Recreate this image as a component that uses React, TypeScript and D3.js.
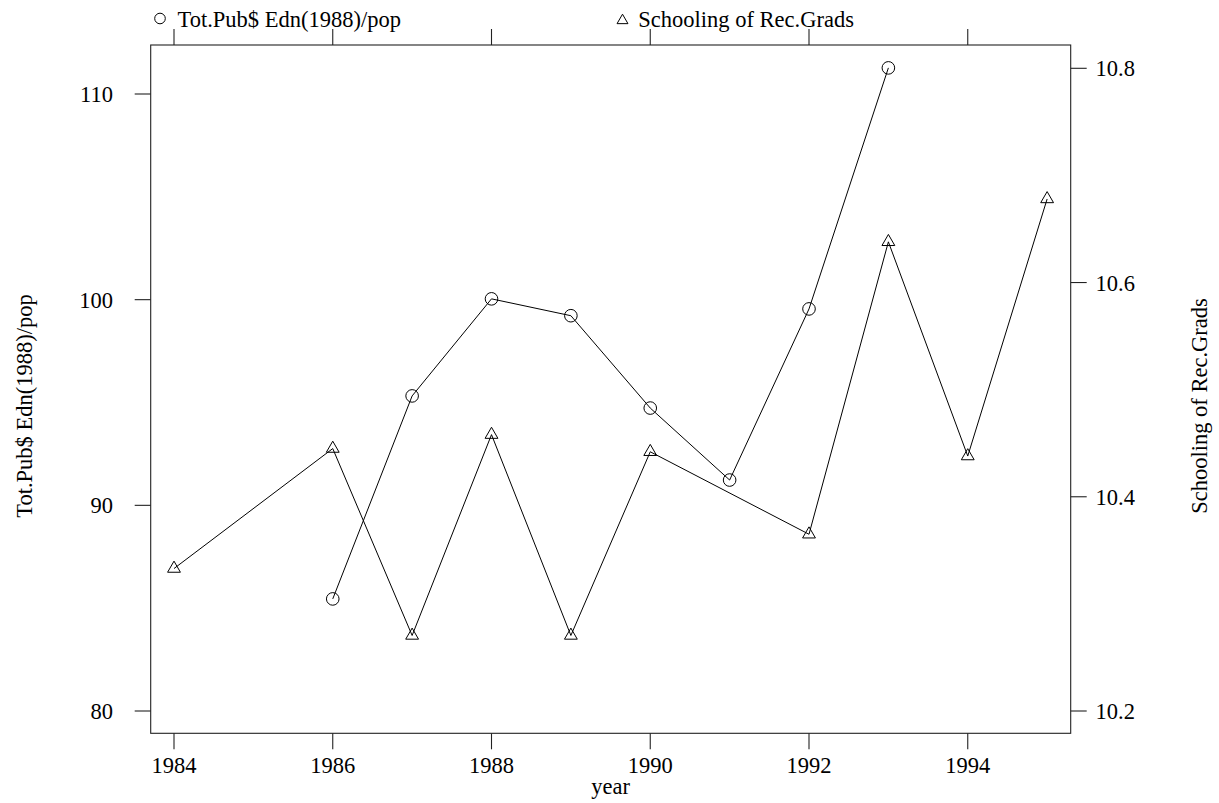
import React from "react";
import * as d3 from "d3";

const years = [1984, 1985, 1986, 1987, 1988, 1989, 1990, 1991, 1992, 1993, 1994, 1995];
const pubEdn: (number | null)[] = [null, null, 85.45, 95.32, 100.04, 99.22, 94.73, 91.23, 99.55, 111.27, null, null];
const schooling: (number | null)[] = [10.333, null, 10.445, 10.2705, 10.458, 10.2705, 10.442, null, 10.365, 10.638, 10.438, 10.678];
const xTicks = [1984, 1986, 1988, 1990, 1992, 1994];
const leftTicks = [80, 90, 100, 110];
const rightTicks = [10.2, 10.4, 10.6, 10.8];
const leftLabel = "Tot.Pub$ Edn(1988)/pop";
const rightLabel = "Schooling of Rec.Grads";
const xLabel = "year";

const W = 1219, H = 803;
const L = 150.7, R = 1070.7, T = 45, B = 733.3;
const FONT = "'Liberation Serif', 'Times New Roman', serif";
const FS = 22.5;

export default function App() {
  const x = d3.scaleLinear().domain([1984, 1992]).range([174, 809]);
  const yL = d3.scaleLinear().domain([80, 110]).range([711, 94]);
  const yR = d3.scaleLinear().domain([10.2, 10.8]).range([711, 68.3]);

  const pubPts = years.map((yr, i) => ({ yr, v: pubEdn[i] })).filter(d => d.v != null) as { yr: number; v: number }[];
  const schPts = years.map((yr, i) => ({ yr, v: schooling[i] })).filter(d => d.v != null) as { yr: number; v: number }[];

  const lineL = d3.line<{ yr: number; v: number }>().x(d => x(d.yr)).y(d => yL(d.v));
  const lineR = d3.line<{ yr: number; v: number }>().x(d => x(d.yr)).y(d => yR(d.v));

  const triR = 7.4;
  const tri = (cx: number, cy: number, r: number) => {
    const xc = r * Math.sqrt(3) / 2;
    return `M${cx},${cy - r}L${cx + xc},${cy + r / 2}L${cx - xc},${cy + r / 2}Z`;
  };

  const axisColor = "#222";
  const titleY = 406;
  const midX = (L + R) / 2;

  return (
    <svg width={W} height={H} style={{ position: "absolute", left: 0, top: 0, background: "#fff" }} fontFamily={FONT}>
      <rect x={0} y={0} width={W} height={H} fill="#fff" />
      {/* legend */}
      <circle cx={160} cy={18.5} r={5.3} fill="none" stroke="#000" strokeWidth={1} />
      <text x={177.5} y={27.3} fontSize={FS} fill="#000">{leftLabel}</text>
      <path d={tri(622.5, 20.5, 6.3)} fill="none" stroke="#000" strokeWidth={1} />
      <text x={638.3} y={27.3} fontSize={FS} fill="#000">{rightLabel}</text>

      {/* box */}
      <rect x={L} y={T} width={R - L} height={B - T} fill="none" stroke={axisColor} strokeWidth={1.1} />

      {/* x ticks bottom and top */}
      {xTicks.map(t => (
        <g key={"x" + t}>
          <line x1={x(t)} x2={x(t)} y1={B} y2={B + 16} stroke={axisColor} strokeWidth={1.1} />
          <line x1={x(t)} x2={x(t)} y1={T} y2={T - 16} stroke={axisColor} strokeWidth={1.1} />
          <text x={x(t)} y={772.5} fontSize={FS} textAnchor="middle" fill="#000">{t}</text>
        </g>
      ))}
      <text x={midX} y={794} fontSize={FS} textAnchor="middle" fill="#000">{xLabel}</text>

      {/* left ticks */}
      {leftTicks.map(t => (
        <g key={"l" + t}>
          <line x1={L - 16} x2={L} y1={yL(t)} y2={yL(t)} stroke={axisColor} strokeWidth={1.1} />
          <text x={113} y={yL(t) + 8} fontSize={FS} textAnchor="end" fill="#000">{t}</text>
        </g>
      ))}
      <text transform={`translate(31.5,${titleY}) rotate(-90)`} fontSize={FS} textAnchor="middle" fill="#000">{leftLabel}</text>

      {/* right ticks */}
      {rightTicks.map(t => (
        <g key={"r" + t}>
          <line x1={R} x2={R + 16} y1={yR(t)} y2={yR(t)} stroke={axisColor} strokeWidth={1.1} />
          <text x={1095.5} y={yR(t) + 8} fontSize={FS} textAnchor="start" fill="#000">{t.toFixed(1)}</text>
        </g>
      ))}
      <text transform={`translate(1207,${titleY}) rotate(-90)`} fontSize={FS} textAnchor="middle" fill="#000">{rightLabel}</text>

      {/* series */}
      <path d={lineL(pubPts) || ""} fill="none" stroke="#000" strokeWidth={1} />
      {pubPts.map(d => (
        <circle key={"c" + d.yr} cx={x(d.yr)} cy={yL(d.v)} r={6.3} fill="none" stroke="#000" strokeWidth={1} />
      ))}
      <path d={lineR(schPts) || ""} fill="none" stroke="#000" strokeWidth={1} />
      {schPts.map(d => (
        <path key={"t" + d.yr} d={tri(x(d.yr), yR(d.v), triR)} fill="none" stroke="#000" strokeWidth={1} />
      ))}
    </svg>
  );
}
